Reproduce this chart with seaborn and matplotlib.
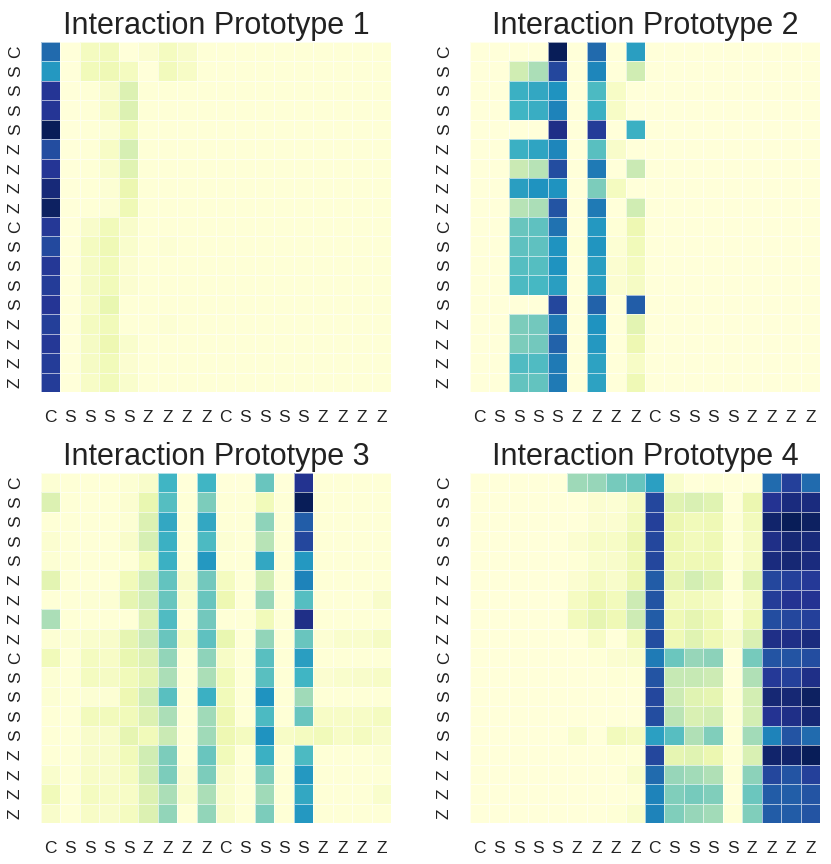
import matplotlib
matplotlib.use("Agg")
import matplotlib.pyplot as plt
import seaborn as sns
import numpy as np

sns.set_style("white")
plt.rcParams["font.family"] = ["Liberation Sans", "DejaVu Sans"]

labels = list("CSSSSZZZZCSSSSZZZZ")
titles = ["Interaction Prototype 1", "Interaction Prototype 2",
          "Interaction Prototype 3", "Interaction Prototype 4"]

proto1 = [
    [72, 0, 8, 9, 0, 3, 8, 5, 1, 1, 1, 1, 1, 1, 1, 1, 1, 1],
    [60, 0, 10, 11, 8, 0, 9, 6, 1, 1, 1, 1, 1, 1, 1, 1, 1, 1],
    [87, 0, 1, 5, 18, 1, 1, 1, 1, 1, 1, 1, 1, 1, 1, 1, 1, 1],
    [87, 0, 1, 6, 18, 1, 1, 1, 1, 1, 1, 1, 1, 1, 1, 1, 1, 1],
    [100, 0, 1, 2, 10, 1, 1, 1, 1, 1, 1, 1, 1, 1, 1, 1, 1, 1],
    [80, 0, 1, 6, 20, 1, 1, 1, 1, 1, 1, 1, 1, 1, 1, 1, 1, 1],
    [87, 0, 1, 4, 17, 1, 1, 1, 1, 1, 1, 1, 1, 1, 1, 1, 1, 1],
    [93, 0, 1, 2, 13, 1, 1, 1, 1, 1, 1, 1, 1, 1, 1, 1, 1, 1],
    [98, 0, 1, 2, 11, 1, 1, 1, 1, 1, 1, 1, 1, 1, 1, 1, 1, 1],
    [86, 0, 5, 10, 5, 1, 1, 1, 1, 1, 1, 1, 1, 1, 1, 1, 1, 1],
    [81, 0, 8, 11, 4, 1, 2, 1, 1, 1, 1, 1, 1, 1, 1, 1, 1, 1],
    [86, 0, 7, 10, 3, 1, 1, 1, 1, 1, 1, 1, 1, 1, 1, 1, 1, 1],
    [85, 0, 7, 10, 3, 1, 1, 1, 1, 1, 1, 1, 1, 1, 1, 1, 1, 1],
    [87, 0, 6, 14, 1, 1, 1, 1, 1, 1, 1, 1, 1, 1, 1, 1, 1, 1],
    [84, 0, 8, 10, 1, 1, 2, 1, 1, 1, 1, 1, 1, 1, 1, 1, 1, 1],
    [86, 0, 7, 12, 4, 1, 1, 1, 1, 1, 1, 1, 1, 1, 1, 1, 1, 1],
    [85, 0, 7, 10, 3, 1, 1, 1, 1, 1, 1, 1, 1, 1, 1, 1, 1, 1],
    [85, 0, 6, 10, 4, 1, 1, 1, 1, 1, 1, 1, 1, 1, 1, 1, 1, 1],
]

proto2 = [
    [0, 0, 0, 0, 100, 0, 72, 0, 58, 0, 0, 0, 0, 0, 0, 0, 0, 0],
    [0, 0, 22, 30, 82, 0, 65, 0, 22, 0, 0, 0, 0, 0, 0, 0, 0, 0],
    [0, 0, 52, 55, 62, 0, 48, 6, 0, 0, 0, 0, 0, 0, 0, 0, 0, 0],
    [0, 0, 50, 53, 66, 0, 52, 6, 0, 0, 0, 0, 0, 0, 0, 0, 0, 0],
    [0, 0, 0, 0, 90, 0, 85, 0, 52, 0, 0, 0, 0, 0, 0, 0, 0, 0],
    [0, 0, 52, 56, 65, 0, 45, 5, 0, 0, 0, 0, 0, 0, 0, 0, 0, 0],
    [0, 0, 24, 28, 80, 0, 68, 0, 24, 0, 0, 0, 0, 0, 0, 0, 0, 0],
    [0, 0, 58, 62, 62, 0, 38, 8, 0, 0, 0, 0, 0, 0, 0, 0, 0, 0],
    [0, 0, 28, 30, 78, 0, 68, 0, 22, 0, 0, 0, 0, 0, 0, 0, 0, 0],
    [0, 0, 42, 44, 70, 0, 60, 1, 12, 0, 0, 0, 0, 0, 0, 0, 0, 0],
    [0, 0, 44, 44, 62, 1, 61, 2, 10, 0, 0, 0, 0, 0, 0, 0, 0, 0],
    [0, 0, 46, 46, 62, 0, 58, 3, 8, 0, 0, 0, 0, 0, 0, 0, 0, 0],
    [0, 0, 48, 49, 58, 0, 58, 3, 7, 0, 0, 0, 0, 0, 0, 0, 0, 0],
    [0, 0, 0, 0, 82, 0, 74, 0, 75, 0, 0, 0, 0, 0, 0, 0, 0, 0],
    [0, 0, 38, 40, 68, 0, 62, 0, 16, 0, 0, 0, 0, 0, 0, 0, 0, 0],
    [0, 0, 38, 40, 74, 0, 60, 0, 12, 0, 0, 0, 0, 0, 0, 0, 0, 0],
    [0, 0, 47, 47, 68, 0, 57, 0, 6, 0, 0, 0, 0, 0, 0, 0, 0, 0],
    [0, 0, 43, 43, 68, 0, 57, 0, 11, 0, 0, 0, 0, 0, 0, 0, 0, 0],
]

proto3 = [
    [2, 1, 1, 1, 2, 5, 50, 0, 50, 0, 0, 42, 0, 88, 1, 1, 1, 1],
    [18, 1, 1, 1, 3, 14, 46, 1, 38, 1, 1, 10, 1, 100, 1, 1, 1, 1],
    [1, 1, 1, 1, 2, 18, 55, 1, 55, 1, 1, 35, 1, 75, 1, 1, 1, 1],
    [3, 1, 1, 1, 5, 20, 52, 1, 48, 2, 1, 28, 1, 82, 1, 1, 1, 1],
    [2, 1, 1, 1, 1, 10, 52, 1, 60, 1, 1, 55, 1, 60, 1, 1, 1, 1],
    [16, 1, 1, 1, 10, 22, 43, 5, 40, 8, 1, 22, 1, 66, 1, 1, 1, 1],
    [1, 1, 2, 2, 15, 22, 42, 4, 42, 12, 1, 33, 1, 46, 1, 1, 1, 5],
    [30, 1, 1, 1, 1, 18, 47, 1, 40, 1, 1, 10, 1, 90, 1, 1, 1, 1],
    [2, 2, 4, 5, 15, 24, 42, 6, 44, 14, 1, 34, 1, 42, 2, 4, 4, 7],
    [10, 1, 8, 6, 14, 18, 34, 1, 35, 6, 1, 45, 1, 58, 1, 1, 1, 1],
    [2, 1, 8, 7, 10, 16, 30, 1, 30, 10, 1, 45, 1, 50, 3, 4, 5, 6],
    [2, 1, 2, 2, 12, 22, 45, 1, 52, 10, 1, 62, 1, 32, 1, 1, 1, 1],
    [1, 1, 9, 9, 10, 18, 30, 1, 32, 12, 1, 48, 1, 42, 6, 6, 6, 8],
    [1, 1, 5, 5, 15, 10, 24, 1, 32, 12, 8, 62, 6, 8, 10, 6, 8, 5],
    [1, 1, 5, 5, 10, 22, 38, 1, 42, 10, 1, 52, 1, 48, 1, 1, 1, 2],
    [4, 1, 6, 5, 8, 22, 38, 3, 38, 5, 1, 38, 1, 60, 1, 1, 1, 1],
    [10, 1, 8, 6, 6, 18, 30, 4, 30, 4, 1, 32, 1, 55, 1, 1, 1, 4],
    [5, 1, 6, 5, 8, 18, 34, 1, 34, 5, 1, 38, 1, 60, 1, 1, 1, 1],
]

proto4 = [
    [1, 1, 1, 1, 1, 33, 34, 40, 43, 58, 5, 1, 2, 1, 1, 72, 84, 72],
    [1, 1, 1, 1, 1, 1, 4, 3, 8, 82, 18, 20, 18, 1, 14, 88, 92, 92],
    [1, 1, 1, 1, 1, 1, 4, 4, 10, 84, 14, 11, 12, 2, 10, 96, 100, 98],
    [1, 1, 1, 1, 1, 4, 7, 7, 14, 82, 13, 10, 12, 2, 8, 90, 94, 93],
    [1, 1, 1, 1, 1, 2, 5, 6, 12, 82, 12, 12, 12, 2, 8, 92, 94, 92],
    [1, 1, 1, 1, 1, 4, 8, 6, 14, 76, 16, 22, 18, 2, 18, 82, 84, 86],
    [1, 1, 1, 1, 1, 8, 14, 10, 24, 78, 10, 10, 8, 2, 8, 85, 88, 88],
    [1, 1, 1, 1, 1, 10, 16, 12, 24, 76, 12, 16, 12, 2, 12, 80, 82, 84],
    [1, 1, 1, 1, 1, 1, 7, 1, 10, 80, 12, 18, 12, 6, 20, 90, 90, 92],
    [1, 1, 1, 1, 1, 1, 2, 4, 5, 68, 42, 34, 36, 1, 40, 78, 78, 80],
    [1, 1, 1, 1, 1, 1, 1, 2, 2, 78, 26, 26, 24, 1, 30, 86, 84, 90],
    [1, 1, 1, 1, 1, 1, 1, 1, 1, 82, 24, 18, 16, 2, 22, 94, 94, 98],
    [1, 1, 1, 1, 1, 1, 1, 1, 1, 80, 28, 20, 22, 2, 22, 88, 90, 94],
    [1, 1, 1, 1, 1, 5, 1, 10, 8, 58, 46, 30, 38, 2, 32, 66, 78, 72],
    [1, 1, 1, 1, 1, 1, 1, 2, 2, 82, 16, 18, 14, 2, 20, 96, 96, 100],
    [1, 1, 1, 1, 1, 1, 1, 1, 5, 72, 34, 32, 30, 2, 36, 82, 78, 84],
    [1, 1, 1, 1, 1, 1, 1, 1, 2, 66, 38, 40, 38, 1, 42, 76, 75, 78],
    [1, 1, 1, 1, 1, 1, 1, 2, 5, 66, 38, 34, 32, 2, 38, 76, 76, 78],
]

W, H = 831, 864
fig = plt.figure(figsize=(W / 100, H / 100), dpi=100)

# axes boxes in pixels: left, top (each 350 px square)
boxes = [(41, 42), (470, 42), (41, 473), (470, 473)]
for data, title, (left, top) in zip([proto1, proto2, proto3, proto4], titles, boxes):
    ax = fig.add_axes([left / W, 1 - (top + 350) / H, 350 / W, 350 / H])
    sns.heatmap(np.array(data), cmap="YlGnBu", cbar=False,
                linewidths=0.4, linecolor=(1, 1, 1, 0.6),
                xticklabels=labels, yticklabels=labels, ax=ax)
    ax.set_title(title, fontsize=22, pad=6, color="#222222")
    ax.tick_params(length=0, labelsize=12.5, pad=13, colors="#222222")
    ax.set_xticklabels(labels, rotation=0)
    ax.set_yticklabels(labels, rotation=90, va="center")

fig.savefig("out.png", dpi=100)
